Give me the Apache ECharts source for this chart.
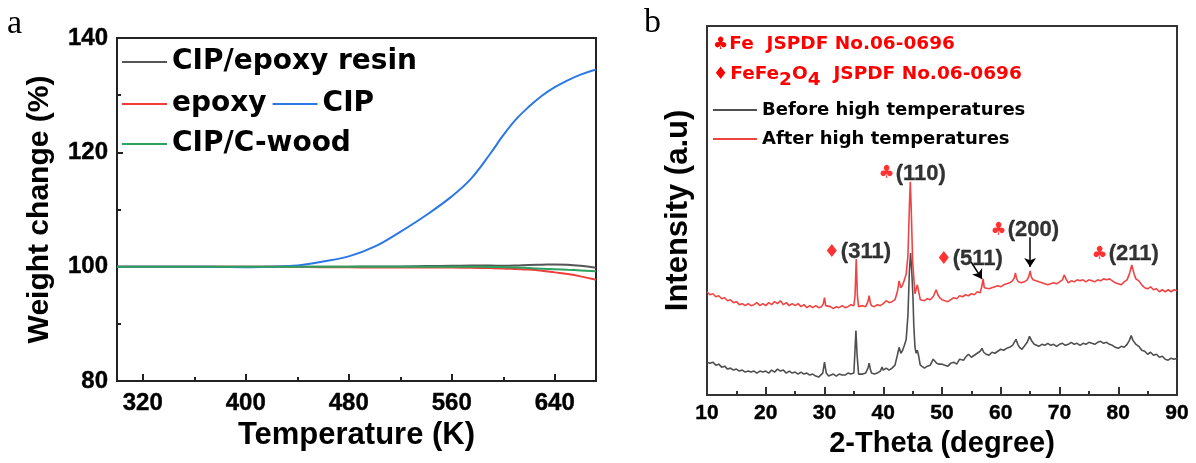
<!DOCTYPE html>
<html><head><meta charset="utf-8">
<script src="https://cdn.jsdelivr.net/npm/echarts@6/dist/echarts.min.js"></script>
<style>html,body{margin:0;padding:0;background:#fff}#c{width:1196px;height:463px}</style>
</head><body><div id="c"></div>
<script>
// ---------- Panel a: TG weight change ----------
const tempK       = [300, 320, 340, 360, 380, 400, 420, 440, 460, 480, 500, 520, 540, 560, 575, 590, 600, 610, 620, 630, 640, 650, 660, 672];
const cipEpoxy    = [100, 100, 100, 100, 100, 100, 100, 100, 100, 100, 100.05, 100.05, 100.1, 100.15, 100.2, 100.2, 100.15, 100.2, 100.3, 100.35, 100.4, 100.35, 100.15, 99.8];
const epoxy       = [100, 100, 100, 100, 100, 100, 100, 99.95, 99.9, 99.9, 99.85, 99.85, 99.85, 99.85, 99.8, 99.75, 99.7, 99.6, 99.5, 99.3, 99.0, 98.7, 98.3, 97.7];
const cip         = [100, 100, 100, 100, 99.95, 99.9, 100.0, 100.2, 100.9, 101.8, 103.5, 106.1, 109.0, 112.3, 115.4, 119.8, 123.0, 125.8, 128.0, 129.9, 131.4, 132.6, 133.6, 134.5];
const cipCwood    = [100, 100, 100, 100, 100, 100, 100, 100, 100, 100, 100, 100, 100, 100, 99.98, 99.95, 99.9, 99.85, 99.75, 99.65, 99.55, 99.45, 99.35, 99.2];
const tempTicks      = [320, 400, 480, 560, 640];
const tempMinorTicks = [360, 440, 520, 600];
const tgNames = ['CIP/epoxy resin', 'epoxy', 'CIP', 'CIP/C-wood'];

// ---------- Panel b: XRD (intensity in arbitrary units) ----------
const afterXRD = [
 [10,104],[10.5,101],[11,102],[11.5,99],[12,100],[12.5,97],[13,98],[13.5,95],[14,96],[14.5,93],[15,94],[15.5,91],[16,92],[16.5,90],[17,92],[17.5,90],[18,91],[18.5,93],[19,90],[19.5,92],[20,90],[20.5,93],[21,91],[21.5,94],[22,92],[22.5,95],[23,91],[23.5,93],[24,90],[24.5,92],[25,90],[25.5,92],[26,89],[26.5,91],[27,88],[27.5,90],[28,88],[28.5,90],[29,88],[29.5,89],[29.8,92],[30,98],[30.2,90],[30.5,88],[31,89],[31.5,87],[32,89],[32.5,88],[33,90],[33.5,88],[34,89],[34.5,91],[35,90],[35.2,100],[35.4,137],[35.6,100],[35.8,89],[36,88],[36.5,90],[37,89],[37.4,94],[37.6,100],[37.8,93],[38,90],[38.5,89],[39,91],[39.5,90],[40,92],[40.5,95],[41,93],[41.5,94],[42,96],[42.4,104],[42.7,115],[43,108],[43.3,111],[43.6,116],[43.9,122],[44.2,140],[44.45,190],[44.6,215],[44.75,190],[45,135],[45.2,118],[45.4,102],[45.6,104],[45.8,111],[46,105],[46.3,96],[46.6,94],[47,95],[47.5,97],[48,96],[48.5,99],[49,106],[49.3,101],[49.6,98],[50,96],[50.5,95],[51,94],[51.5,96],[52,98],[52.5,97],[53,100],[53.5,99],[54,101],[54.5,100],[55,102],[55.5,101],[56,104],[56.5,103],[56.8,110],[57,117],[57.2,108],[57.5,106],[58,107],[58.5,108],[59,109],[59.5,110],[60,109],[60.5,111],[61,112],[61.5,113],[62,115],[62.3,118],[62.5,123],[62.7,117],[63,114],[63.5,113],[64,114],[64.5,116],[64.8,120],[65,125],[65.2,119],[65.5,116],[66,115],[66.5,114],[67,113],[67.5,112],[68,111],[68.5,112],[69,113],[69.5,112],[70,114],[70.5,116],[70.8,121],[71.1,117],[71.5,113],[72,115],[72.5,114],[73,116],[73.5,115],[74,116],[74.5,114],[75,116],[75.5,115],[76,114],[76.5,116],[77,115],[77.5,117],[78,116],[78.5,117],[79,115],[79.5,113],[80,112],[80.5,111],[81,114],[81.5,116],[81.9,122],[82.3,131],[82.7,122],[83,117],[83.5,115],[84,111],[84.5,108],[85,107],[85.5,109],[86,106],[86.5,107],[87,104],[87.5,106],[88,104],[88.5,106],[89,104],[89.5,106],[90,105]
];
const beforeXRD = [
 [10,33],[10.5,32],[11,33],[11.5,30],[12,31],[12.5,28],[13,29],[13.5,26],[14,27],[14.5,25],[15,26],[15.5,24],[16,25],[16.5,23],[17,24],[17.5,23],[18,24],[18.5,22],[19,24],[19.5,23],[20,24],[20.5,22],[21,25],[21.5,23],[22,26],[22.5,24],[23,25],[23.5,22],[24,24],[24.5,22],[25,23],[25.5,21],[26,23],[26.5,21],[27,22],[27.5,20],[28,21],[28.5,19],[29,18],[29.3,16],[29.7,22],[30,33],[30.3,22],[30.7,19],[31,20],[31.5,21],[32,19],[32.5,21],[33,20],[33.5,20],[34,22],[34.5,21],[35,22],[35.15,40],[35.35,65],[35.55,40],[35.8,21],[36,19],[36.5,21],[37,22],[37.4,27],[37.6,32],[37.8,26],[38,22],[38.5,21],[39,22],[39.5,24],[39.8,28],[40,25],[40.5,27],[41,25],[41.5,27],[42,30],[42.4,40],[42.7,48],[43,42],[43.3,45],[43.6,50],[43.9,56],[44.2,80],[44.45,125],[44.65,143],[44.85,125],[45.05,100],[45.2,70],[45.4,48],[45.6,42],[45.8,45],[46,40],[46.3,30],[46.6,28],[47,27],[47.5,29],[48,30],[48.5,36],[48.8,38],[49.1,32],[49.5,31],[50,31],[50.5,30],[51,29],[51.5,32],[52,33],[52.5,31],[53,36],[53.3,34],[53.7,35],[54,38],[54.5,41],[55,38],[55.5,40],[56,42],[56.5,44],[56.8,47],[57.1,43],[57.5,41],[58,40],[58.5,43],[59,42],[59.5,44],[60,46],[60.5,45],[61,47],[61.5,48],[62,50],[62.3,53],[62.6,56],[62.9,51],[63.2,48],[63.6,46],[64,49],[64.5,53],[64.9,59],[65.3,54],[65.7,51],[66,50],[66.5,49],[67,51],[67.5,50],[68,52],[68.5,50],[69,51],[69.5,49],[70,51],[70.5,52],[71,50],[71.5,51],[72,53],[72.5,51],[73,52],[73.5,50],[74,52],[74.5,51],[75,53],[75.5,52],[76,51],[76.5,53],[77,54],[77.5,52],[78,53],[78.5,51],[79,50],[79.5,48],[80,47],[80.5,49],[81,48],[81.5,51],[81.9,55],[82.2,60],[82.5,55],[83,51],[83.5,49],[84,45],[84.5,44],[85,41],[85.5,43],[86,40],[86.5,41],[87,38],[87.5,39],[88,36],[88.5,35],[89,37],[89.5,36],[90,37]
];
const peakSymbols = ['♦', '♣', '♦', '♣', '♣'];
const peakTexts   = ['(311)', '(110)', '(511)', '(200)', '(211)'];
const peakAnchorX = [29.78, 39.12, 48.83, 58.18, 75.37];
const peakAnchorY = [144, 223, 137, 166, 142];
const arrowLines  = [[[54.95, 134], [56.8, 117]], [[65.0, 159], [65.0, 129]]];
const xrdNames = ['Before high temperatures', 'After high temperatures'];

const AX = '#222';
const ARIAL = 'Liberation Sans';
const DEJA = 'DejaVu Sans';
const RED = '#ff0000';

const chart = echarts.init(document.getElementById('c'));
const pair = (xs, ys) => xs.map((x, i) => [x, ys[i]]);

const legendBase = {
  icon: 'rect', itemWidth: 45, itemHeight: 2, itemGap: 6, padding: 0,
  textStyle: { fontSize: 28, fontWeight: 'bold', fontFamily: DEJA, color: '#000' }
};
const boldLabel = (size, extra) => Object.assign({ fontSize: size, fontWeight: 'bold', fontFamily: ARIAL, color: '#000',
  textBorderColor: '#000', textBorderWidth: 0.4 }, extra || {});
const tgLine = (name, vals, color) => ({ name, type: 'line', xAxisIndex: 0, yAxisIndex: 0, data: pair(tempK, vals),
  smooth: 0.4, showSymbol: false, color, lineStyle: { width: 2 } });

chart.setOption({
  animation: false,
  backgroundColor: '#fff',
  grid: [
    { left: 117, top: 38, right: 600, bottom: 82, show: true, borderColor: AX, borderWidth: 2 },
    { left: 707, top: 26, right: 19, bottom: 65, show: true, borderColor: '#333', borderWidth: 2 }
  ],
  legend: [
    Object.assign({}, legendBase, { data: [tgNames[0]], left: 122, top: 48 }),
    Object.assign({}, legendBase, { data: [tgNames[1], tgNames[2]], left: 122, top: 90 }),
    Object.assign({}, legendBase, { data: [tgNames[3]], left: 122, top: 130 }),
    { data: xrdNames, orient: 'vertical', left: 713, top: 100, icon: 'rect', itemWidth: 44, itemHeight: 2, itemGap: 9, padding: 0,
      textStyle: { fontSize: 18, fontWeight: 'bold', fontFamily: DEJA, color: '#000', lineHeight: 20 } }
  ],
  xAxis: [
    { gridIndex: 0, type: 'value', min: 300, max: 672,
      axisLine: { lineStyle: { color: AX, width: 2 } },
      axisTick: { inside: true, length: 7, customValues: tempTicks, lineStyle: { color: AX, width: 2 } },
      axisLabel: boldLabel(24, { customValues: tempTicks, margin: 10 }),
      splitLine: { show: false },
      name: 'Temperature (K)', nameLocation: 'middle', nameGap: 30,
      nameTextStyle: { fontSize: 31, fontWeight: 'bold', fontFamily: ARIAL, color: '#000' } },
    { gridIndex: 0, type: 'value', min: 300, max: 672, position: 'bottom',
      axisLine: { show: false },
      axisTick: { inside: true, length: 4, customValues: tempMinorTicks, lineStyle: { color: AX, width: 2 } },
      axisLabel: { show: false }, splitLine: { show: false } },
    { gridIndex: 1, type: 'value', min: 10, max: 90, interval: 10,
      axisLine: { lineStyle: { color: '#333', width: 2 } },
      axisTick: { inside: true, length: 8, lineStyle: { color: '#333', width: 2 } },
      minorTick: { show: true, splitNumber: 2, length: 4, lineStyle: { color: '#333', width: 2 } },
      axisLabel: boldLabel(21, { margin: 8 }),
      splitLine: { show: false },
      name: '2-Theta (degree)', nameLocation: 'middle', nameGap: 30,
      nameTextStyle: { fontSize: 29, fontWeight: 'bold', fontFamily: ARIAL, color: '#000' } }
  ],
  yAxis: [
    { gridIndex: 0, type: 'value', min: 80, max: 140, interval: 20,
      axisLine: { lineStyle: { color: AX, width: 2 } },
      axisTick: { inside: true, length: 6, lineStyle: { color: AX, width: 2 } },
      minorTick: { show: true, splitNumber: 2, length: 4, lineStyle: { color: AX, width: 2 } },
      axisLabel: boldLabel(24, { margin: 9 }),
      splitLine: { show: false },
      name: 'Weight change (%)', nameLocation: 'middle', nameGap: 62,
      nameTextStyle: { fontSize: 30, fontWeight: 'bold', fontFamily: ARIAL, color: '#000' } },
    { gridIndex: 1, type: 'value', min: 0, max: 372,
      axisLine: { lineStyle: { color: '#333', width: 2 } },
      axisTick: { show: false }, axisLabel: { show: false }, splitLine: { show: false },
      name: 'Intensity (a.u)', nameLocation: 'middle', nameGap: 13,
      nameTextStyle: { fontSize: 31, fontWeight: 'bold', fontFamily: ARIAL, color: '#000' } }
  ],
  series: [
    tgLine(tgNames[0], cipEpoxy, '#555555'),
    tgLine(tgNames[1], epoxy, '#f23c3c'),
    tgLine(tgNames[2], cip, '#2b78e4'),
    tgLine(tgNames[3], cipCwood, '#2ca25f'),
    { name: xrdNames[0], type: 'line', xAxisIndex: 2, yAxisIndex: 1, data: beforeXRD, showSymbol: false, color: '#4f4f4f', lineStyle: { width: 1.6 } },
    { name: xrdNames[1], type: 'line', xAxisIndex: 2, yAxisIndex: 1, data: afterXRD, showSymbol: false, color: '#f04444', lineStyle: { width: 1.6 },
      markLine: { silent: true, symbol: ['none', 'arrow'], symbolSize: 9, label: { show: false },
        lineStyle: { color: '#000', width: 1.5, type: 'solid' },
        itemStyle: { color: '#000' },
        emphasis: { disabled: true },
        data: arrowLines.map(l => [{ coord: l[0] }, { coord: l[1] }]) } },
    { name: 'peaks', type: 'scatter', xAxisIndex: 2, yAxisIndex: 1, symbolSize: 1, itemStyle: { color: 'rgba(0,0,0,0)' },
      silent: true, emphasis: { disabled: true },
      data: peakAnchorX.map((x, i) => ({ value: [x, peakAnchorY[i]], sym: peakSymbols[i], txt: peakTexts[i] })),
      label: { show: true, position: 'right', distance: 0,
        fontSize: 22, fontWeight: 'bold', fontFamily: ARIAL, color: '#000',
        formatter: p => '{s|' + p.data.sym + '}{t|' + p.data.txt + '}',
        rich: { s: { fontSize: 18, fontFamily: DEJA, color: RED, padding: [0, 1, 0, 0] },
                t: { fontSize: 22, fontWeight: 'bold', fontFamily: ARIAL, color: '#000', textBorderColor: '#000', textBorderWidth: 0.3 } } } }
  ],
  graphic: [
    { type: 'text', left: 7, top: 7, style: { text: 'a', font: '34px Liberation Serif', fill: '#000' } },
    { type: 'text', left: 644, top: 6, style: { text: 'b', font: '34px Liberation Serif', fill: '#000' } },
    { type: 'text', left: 713, top: 35, style: {
        text: '{s|♣}{t|Fe  JSPDF No.06-0696}',
        rich: { s: { fontSize: 17, fontFamily: DEJA, fill: RED, padding: [0, 1, 0, 0] },
                t: { fontSize: 18.5, fontWeight: 'bold', fontFamily: DEJA, fill: RED } } } },
    { type: 'text', left: 713, top: 65, style: {
        text: '{s|♦}{t|FeFe}{b|2}{t|O}{b|4}{t|  JSPDF No.06-0696}',
        rich: { s: { fontSize: 17, fontFamily: DEJA, fill: RED, padding: [0, 2, 6, 0] },
                t: { fontSize: 18.5, fontWeight: 'bold', fontFamily: DEJA, fill: RED, padding: [0, 0, 6, 0] },
                b: { fontSize: 18.5, fontWeight: 'bold', fontFamily: DEJA, fill: RED, padding: [6, 0, 0, 0] } } } }
  ]
});
</script>
</body></html>
